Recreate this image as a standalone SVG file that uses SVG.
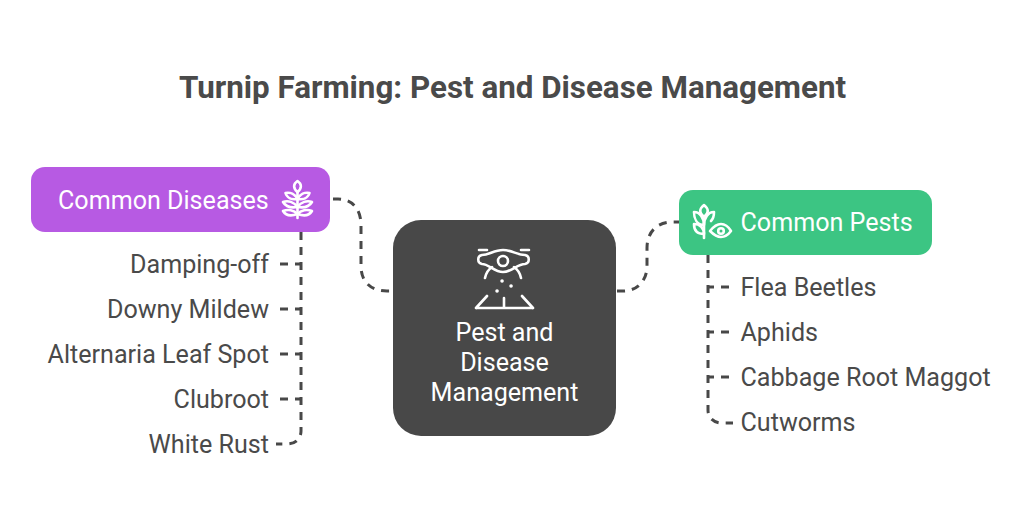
<svg xmlns="http://www.w3.org/2000/svg" width="1024" height="520" viewBox="0 0 1024 520">
<style>
text{font-family:Roboto,"Liberation Sans",sans-serif;font-size:25.1px;fill:#4a4a4a}
.t{font-size:31.35px;font-weight:700;text-anchor:middle}
.w{fill:#fff}
.e{text-anchor:end}
.c{text-anchor:middle;fill:#fff}
.d{fill:none;stroke:#484848;stroke-width:3;stroke-dasharray:8 7}
.b{stroke-dashoffset:2}
.i{fill:none;stroke:#fff;stroke-width:2.6;stroke-linecap:round;stroke-linejoin:round}
</style>
<rect width="1024" height="520" fill="#fff"/>
<g id="title"><text class="t" x="512.500" y="98">Turnip Farming: Pest and Disease Management</text></g>
<g id="connectors">
<path class="d" d="M333 199H338C352 199 361 209 361 225V266C361 282 371 291 387 291H393"/>
<path class="d" d="M617 291H623C637 291 647 281 647 266V248C647 232 657 222 673 222H680"/>
<path class="d" d="M301 232V431C301 439 295 444 287 444H276"/>
<path class="d b" d="M301 264H278"/>
<path class="d b" d="M301 309H278"/>
<path class="d b" d="M301 354H278"/>
<path class="d b" d="M301 399H278"/>
<path class="d" d="M708 255V410C708 418 714 423 722 423H733"/>
<path class="d b" d="M708 287H731"/>
<path class="d b" d="M708 332H731"/>
<path class="d b" d="M708 377H731"/>
</g>
<g id="diseases">
<rect x="31" y="167" width="299" height="65" rx="14" fill="#b75ae3"/>
<text class="w" x="58" y="209">Common Diseases</text>
<g class="i">
<path d="M297.500 192V218"/>
<path d="M297.500 192C293 188 293 184 297.500 181C302 184 302 188 297.500 192Z"/>
<path d="M297.500 199C295 194 290 192 285.500 193C287 198 292 200 297.500 199C303 200 308 198 309.500 193C305 192 300 194 297.500 199Z"/>
<path d="M297.500 207C294 202 288 200 283 202C286 207 292 208 297.500 207C303 208 309 207 312 202C307 200 301 202 297.500 207Z"/>
<path d="M297.500 214C294 210 288 209 283 211C286 216 292 216 297.500 214C303 216 309 216 312 211C307 209 301 210 297.500 214Z"/>
</g>
</g>
<g id="center">
<rect x="393" y="220" width="223" height="216" rx="28" fill="#484848"/>
<g class="i">
<path d="M479 250H487M521 250H529"/>
<circle cx="503" cy="261" r="5"/>
<path d="M482 255C489 255 494 250 503 250C512 250 517 255 525 255C530 256 530 263 525 264C517 264 512 272 503 272C494 272 489 264 482 264C477 263 477 256 482 255Z"/>
<path d="M485 278C486 273 489 269 492 267M521 278C520 273 517 269 514 267"/>
<path d="M476 308L487 296M533 308L522 296M476 308H533M504 298V308"/>
<path d="M502 281h.1M497 291h.1M511 286h.1" stroke-width="3.500"/>
</g>
<text class="c" x="504.500" y="341">Pest and</text>
<text class="c" x="504.500" y="371">Disease</text>
<text class="c" x="504.500" y="401">Management</text>
</g>
<g id="pests">
<rect x="679" y="190" width="253" height="65" rx="14" fill="#3cc583"/>
<text class="w" x="740.500" y="231">Common Pests</text>
<g class="i">
<path d="M704 238V217"/>
<path d="M704 217C699 213 699 209 704 205C709 209 709 213 704 217Z"/>
<path d="M704 225C697 225 694 219 694 212C700 212 704 218 704 225C704 218 708 212 714 212C714 216 713 219 711 221"/>
<path d="M704 234C697 234 694 230 694 224C700 224 704 228 704 234"/>
<path d="M710 231C714 226 718 224 721 224C724 224 728 226 731 231C728 235 724 237 721 237C718 237 714 235 710 231Z"/>
<circle cx="721" cy="231" r="2.800"/>
</g>
</g>
<g id="item-damping"><text class="e" x="269" y="273">Damping-off</text></g>
<g id="item-downy"><text class="e" x="269" y="318">Downy Mildew</text></g>
<g id="item-alternaria"><text class="e" x="269" y="363.400">Alternaria Leaf Spot</text></g>
<g id="item-clubroot"><text class="e" x="269" y="408.400">Clubroot</text></g>
<g id="item-rust"><text class="e" x="269" y="453.400">White Rust</text></g>
<g id="item-flea"><text x="740.500" y="296">Flea Beetles</text></g>
<g id="item-aphids"><text x="740.500" y="341">Aphids</text></g>
<g id="item-maggot"><text x="740.500" y="386">Cabbage Root Maggot</text></g>
<g id="item-cutworms"><text x="740.500" y="431.400">Cutworms</text></g>
</svg>
